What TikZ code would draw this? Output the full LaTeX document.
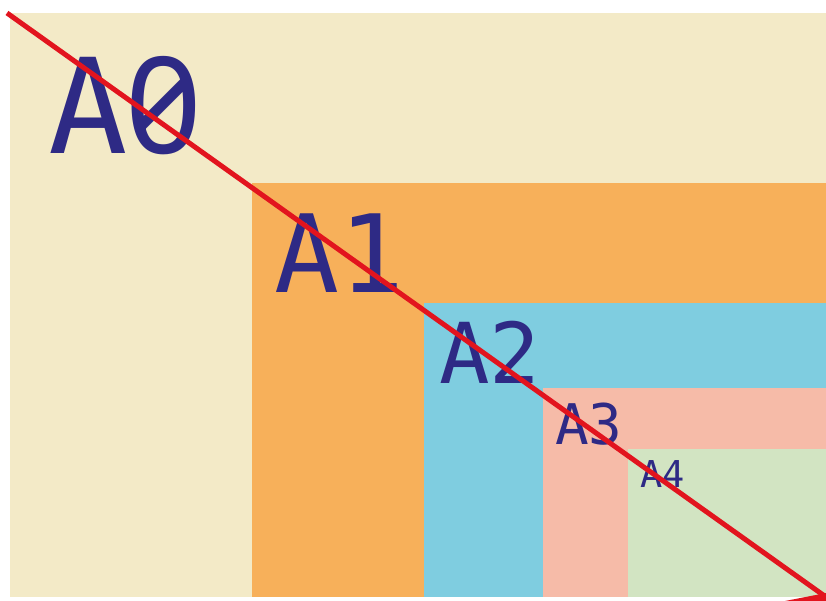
\documentclass[tikz,border=0pt]{standalone}
\usepackage{fontspec}
\newfontfamily\lblfont{DejaVu Sans Mono}
\newfontfamily\zerofont[Numbers=SlashedZero]{Noto Sans}
\definecolor{cA0}{HTML}{F3EAC7}
\definecolor{cA1}{HTML}{F7B05A}
\definecolor{cA2}{HTML}{7FCDE0}
\definecolor{cA3}{HTML}{F6BBA8}
\definecolor{cA4}{HTML}{D2E4C2}
\definecolor{navy}{HTML}{2E2A85}
\definecolor{redline}{HTML}{E2141E}
\tikzset{
  lbl/.style={anchor=base west, inner sep=0pt, text=navy, font=\lblfont},
}
\begin{document}
\begin{tikzpicture}[x=1pt,y=-1pt]
\useasboundingbox (0,0) rectangle (826,601);
\fill[white] (0,0) rectangle (826,601);
\fill[cA0] (10,13) rectangle (826,597);
\fill[cA1] (252,183) rectangle (826,597);
\fill[cA2] (424,303) rectangle (826,597);
\fill[cA3] (543,388) rectangle (826,597);
\fill[cA4] (628,449) rectangle (826,597);
\node[lbl, font=\lblfont\fontsize{132}{132}\selectfont] (a0) at (48,154) {A\kern-2pt{\zerofont\fontsize{134}{134}\selectfont 0}};
\node[lbl, font=\lblfont\fontsize{108}{108}\selectfont] (a1) at (274,292) {A1};
\node[lbl, font=\lblfont\fontsize{84}{84}\selectfont] (a2) at (439,383) {A2};
\node[lbl, font=\lblfont\fontsize{56}{56}\selectfont] (a3) at (555,444) {A3};
\node[lbl, font=\lblfont\fontsize{37}{37}\selectfont] (a4) at (640,487) {A4};
\coordinate (s) at (7,13);
\coordinate (e) at (826,597);
\draw[redline, line width=5pt] (s) -- (e);
\fill[redline] (785,601) -- (826,593) -- (826,601) -- cycle;
\end{tikzpicture}
\end{document}
